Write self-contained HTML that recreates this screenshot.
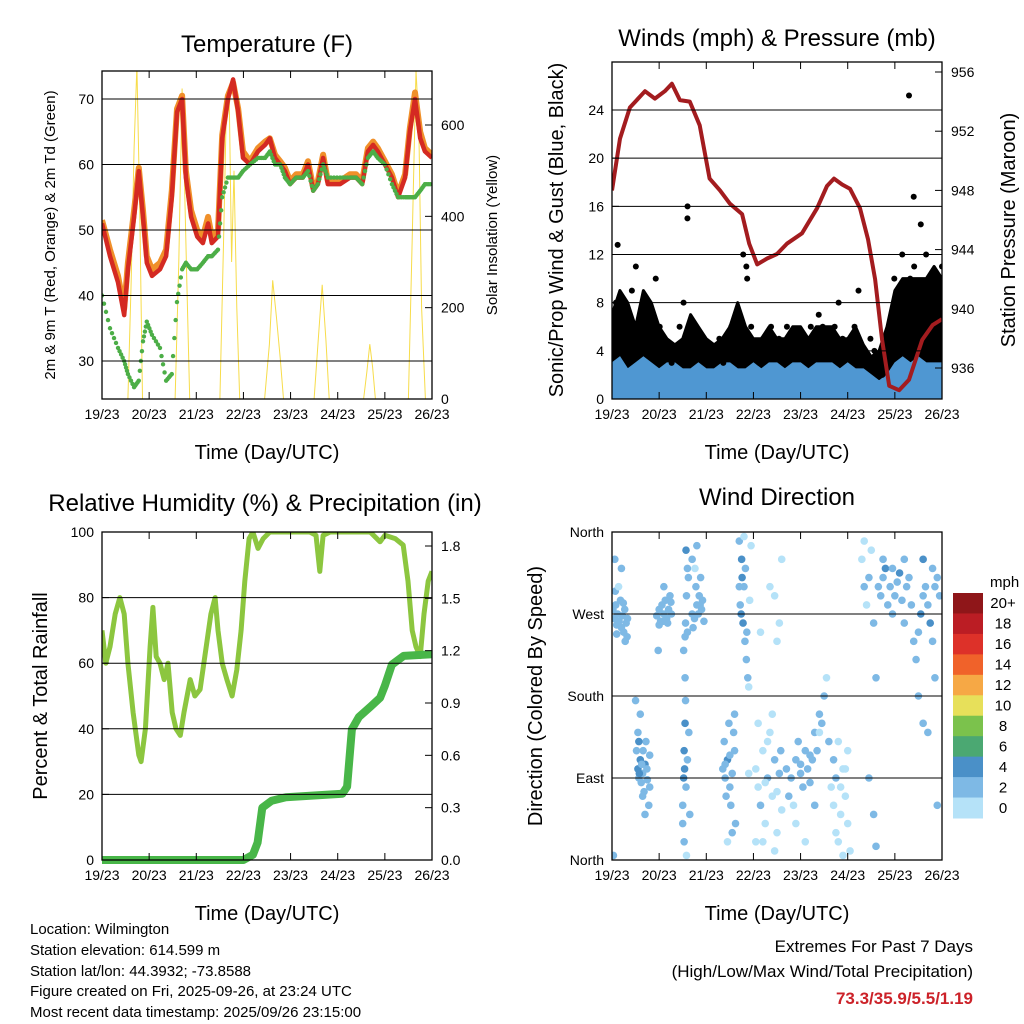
<!DOCTYPE html>
<html><head><meta charset="utf-8"><style>
html,body{margin:0;padding:0;background:#fff;}
svg{display:block;font-family:"Liberation Sans",Arial,sans-serif;}
</style></head><body>
<svg id="chart" width="1024" height="1024" viewBox="0 0 1024 1024" xmlns="http://www.w3.org/2000/svg">
<g id="marks"></g>
<g id="frames"></g>
<text x="267" y="52" font-size="24" text-anchor="middle">Temperature (F)</text>
<text x="777" y="46" font-size="24" text-anchor="middle">Winds (mph) &amp; Pressure (mb)</text>
<text x="265" y="511" font-size="24" text-anchor="middle">Relative Humidity (%) &amp; Precipitation (in)</text>
<text x="777" y="505" font-size="24" text-anchor="middle">Wind Direction</text>
<text x="267" y="459" font-size="20" text-anchor="middle">Time (Day/UTC)</text>
<text x="777" y="459" font-size="20" text-anchor="middle">Time (Day/UTC)</text>
<text x="267" y="920" font-size="20" text-anchor="middle">Time (Day/UTC)</text>
<text x="777" y="920" font-size="20" text-anchor="middle">Time (Day/UTC)</text>
<text transform="translate(55,235) rotate(-90)" font-size="15" text-anchor="middle">2m &amp; 9m T (Red, Orange) &amp; 2m Td (Green)</text>
<text transform="translate(497,235) rotate(-90)" font-size="15" text-anchor="middle">Solar Insolation (Yellow)</text>
<text transform="translate(563,230) rotate(-90)" font-size="20" text-anchor="middle">Sonic/Prop Wind &amp; Gust (Blue, Black)</text>
<text transform="translate(1015,230) rotate(-90)" font-size="20" text-anchor="middle">Station Pressure (Maroon)</text>
<text transform="translate(47,696) rotate(-90)" font-size="20" text-anchor="middle">Percent &amp; Total Rainfall</text>
<text transform="translate(542,696) rotate(-90)" font-size="20" text-anchor="middle">Direction (Colored By Speed)</text>
<g font-size="15">
<text x="30" y="934">Location: Wilmington</text>
<text x="30" y="955">Station elevation: 614.599 m</text>
<text x="30" y="976">Station lat/lon: 44.3932; -73.8588</text>
<text x="30" y="996">Figure created on Fri, 2025-09-26, at 23:24 UTC</text>
<text x="30" y="1017">Most recent data timestamp: 2025/09/26 23:15:00</text>
</g>
<text x="973" y="952" font-size="17" text-anchor="end">Extremes For Past 7 Days</text>
<text x="973" y="977" font-size="17" text-anchor="end">(High/Low/Max Wind/Total Precipitation)</text>
<text x="973" y="1004" font-size="17" font-weight="bold" fill="#cc2229" text-anchor="end">73.3/35.9/5.5/1.19</text>
<g id="colorbar"></g>
</svg>
<script>
// ---------- data ----------
const dayLabels = ["19/23","20/23","21/23","22/23","23/23","24/23","25/23","26/23"];
const tempTimes = [0,0.17,0.34,0.47,0.55,0.68,0.78,0.87,0.95,1.06,1.23,1.36,1.48,1.59,1.70,1.78,1.89,2.02,2.14,2.25,2.33,2.46,2.55,2.67,2.78,2.89,2.99,3.14,3.31,3.46,3.56,3.67,3.78,3.88,3.99,4.12,4.26,4.37,4.48,4.58,4.69,4.79,5.05,5.26,5.39,5.52,5.64,5.75,5.85,6.00,6.15,6.28,6.43,6.53,6.64,6.75,6.85,7.0];
const temp2m = [51,46,42,37,44,52,59,52,45,43,44,46,55,68,70,58,52,49,48,51,48,49,64,70,73,68,61,60,62,63,64,61,60,59,57,58,58,60,56,57,61,57,57,58,58,57,62,63,62,60,58,55,58,65,70,64,62,61];
const temp9m = [51.5,47,43,38,45,53,59.5,53,46,44,45,47,56,68.5,70.5,59,53,50,49,52,49,50,64.5,70.5,72.5,68.5,62,60.5,62.5,63.5,64,61.5,60.5,59.5,57.5,58.5,58.5,60.5,56.5,57.5,61.5,57.5,57.5,58.5,58.5,57.5,62.5,63.5,62.5,60.5,58.5,55.5,58.5,65.5,71,65,62.5,61.5];
const dewpoint = [40,35,32,30,28,26,27,33,36,34,32,27,28,39,44,45,44,44,45,46,46,47,55,58,58,58,59,60,61,61,62,60,60,58,57,58,58,59,56,57,60,58,58,58,58,57,61,62,61,60,57,55,55,55,55,56,57,57];
const solarTimes = [0,0.55,0.62,0.68,0.74,0.80,0.86,1.55,1.63,1.70,1.74,1.80,1.86,2.50,2.58,2.63,2.70,2.75,2.80,2.86,2.92,3.45,3.55,3.62,3.70,3.78,3.85,4.50,4.60,4.67,4.75,4.82,5.55,5.62,5.68,5.74,5.80,6.50,6.58,6.66,6.72,6.78,6.86,7.0];
const solarVals  = [0,0,260,550,730,420,0,0,300,680,520,250,0,0,350,600,650,300,500,200,0,0,120,260,180,90,0,0,150,250,130,0,0,60,120,70,0,0,350,720,600,200,0,0];
const pressTimes = [0,0.17,0.38,0.70,0.91,1.12,1.27,1.44,1.65,1.86,2.07,2.29,2.50,2.76,2.91,3.08,3.29,3.50,3.71,4.03,4.35,4.56,4.71,4.88,5.05,5.26,5.43,5.58,5.73,5.88,6.09,6.30,6.58,6.80,7.0];
const pressure   = [948.0,951.5,953.6,954.7,954.2,954.7,955.2,954.1,954.0,952.4,948.8,948.0,947.1,946.4,944.4,943.0,943.4,943.7,944.4,945.1,946.8,948.3,948.8,948.4,948.1,946.8,944.7,942.0,937.9,934.8,934.5,935.2,937.9,938.9,939.3];
const gustVals = [5,8,6,4,7,9,11,6,5,4,6,10,6,5,4,3,4,6,8,16,6,5,4,4,4,3,4,5,3,4,6,5,7,12,10,6,4,3,5,4,6,4,5,3,6,4,5,4,5,4,6,5,7,6,5,4,6,8,5,4,5,6,9,4,3,5,4,3,2,3,6,10,9,12,8,10,11,7,9,12,8,10,9,11];
const gustBandTop = [7,9,8,6,9,8,6,5,4.5,5,7,6,5,4.5,5,6,8,6,5,5,6,5,5,6,6,5,6,6,6,5,5,6,4.5,3.5,4,6,9,10,10,10,10,11,10];
const gustOutlierTimes = [0.12,1.6,2.85,6.3,6.4,6.55];
const gustOutlierVals  = [12.8,15,11,25.2,16.8,14.5];
const speedVals = [3,3.5,2.5,3,3.5,3,2.5,3,3,2.5,2.5,3,2.5,2.5,3,3,2.5,2.5,3,2.5,3,3,2.5,3,3,2.5,3,3,3,2.5,3,2.5,2.5,2,1.5,2,3,3.5,3,3.5,3,3,3];
const rhTimes = [0,0.08,0.17,0.28,0.38,0.47,0.55,0.66,0.78,0.83,0.92,1.02,1.08,1.15,1.23,1.32,1.40,1.49,1.57,1.66,1.74,1.87,1.97,2.08,2.21,2.31,2.40,2.46,2.55,2.65,2.76,2.86,2.95,3.03,3.12,3.20,3.31,3.42,3.56,3.78,3.99,4.20,4.41,4.54,4.62,4.69,4.84,5.26,5.69,5.90,6.00,6.22,6.39,6.49,6.58,6.66,6.75,6.83,6.92,7.0];
const rhVals  = [70,60,65,75,80,75,60,45,32,30,40,65,77,62,60,55,60,45,40,38,45,55,50,52,65,75,80,70,60,55,50,58,70,85,98,100,95,98,100,100,100,100,100,99,88,99,100,100,100,97,99,98,96,85,70,65,62,75,85,88];
const precipTimes = [0,3.0,3.2,3.3,3.4,3.6,3.9,4.5,5.1,5.2,5.3,5.45,5.7,5.9,6.0,6.15,6.4,7.0];
const precipVals  = [0,0,0.03,0.1,0.3,0.34,0.36,0.37,0.38,0.42,0.75,0.82,0.88,0.93,1.0,1.12,1.17,1.18];
const dirObs = [
[0.02,275,2.5],[0.05,265,2.5],[0.08,280,2.5],[0.1,258,2.5],[0.12,270,3],[0.15,262,2.5],[0.18,285,2.5],[0.2,255,2.5],[0.22,268,2.5],[0.25,250,2.5],[0.27,275,2.5],[0.3,260,2.5],[0.32,245,2.5],[0.07,295,2.5],[0.14,300,1],[0.2,320,2.5],[0.28,240,2.5],[0.33,265,2.5],[0.1,248,2.5],[0.24,282,2.5],[0.03,5,2.5],[0.06,330,2.5],
[0.52,120,3],[0.55,100,4.5],[0.57,90,3],[0.6,110,4.5],[0.62,85,3],[0.65,95,3],[0.68,75,3],[0.7,105,4.5],[0.72,130,3],[0.75,88,3],[0.78,60,3],[0.8,115,3],[0.55,140,3],[0.6,160,3],[0.65,70,3],[0.7,50,3],[0.58,95,4.5],[0.66,120,3],[0.74,100,3],[0.5,175,3],[0.8,80,3],[0.57,130,4.5],[0.63,105,3],
[0.95,268,2.5],[1.0,275,2.5],[1.03,262,2.5],[1.06,280,2.5],[1.1,270,2.5],[1.13,285,2.5],[1.16,265,2.5],[1.2,275,2.5],[1.23,290,2.5],[1.26,270,2.5],[1.0,258,2.5],[1.08,262,2.5],[1.18,260,2.5],[1.1,300,2.5],[1.25,283,2.5],[0.98,230,2.5],
[1.5,60,3],[1.52,90,4.5],[1.53,120,4.5],[1.55,150,4.5],[1.56,175,3],[1.54,100,4.5],[1.57,80,3],[1.5,40,3],[1.53,20,3],[1.58,5,1],[1.55,200,3],[1.52,230,3],[1.56,260,3],[1.58,290,3],[1.6,320,3],[1.57,340,4.5],[1.62,310,3],[1.6,250,3],[1.55,245,3],[1.6,110,3],[1.63,140,3],[1.65,50,3],
[1.7,270,2.5],[1.75,265,2.5],[1.8,280,2.5],[1.85,290,2.5],[1.9,275,2.5],[1.95,262,2.5],[1.78,300,2.5],[1.88,310,2.5],[1.72,255,2.5],[1.92,285,2.5],[1.7,330,2.5],[1.8,345,2.5],[1.83,270,2.5],[1.87,280,2.5],[1.76,320,1],
[2.35,100,3],[2.4,90,3],[2.45,110,4.5],[2.5,80,3],[2.55,95,3],[2.6,120,3],[2.42,70,3],[2.52,60,3],[2.58,140,3],[2.38,130,3],[2.48,150,3],[2.62,40,3],[2.45,20,1],[2.55,30,3],[2.4,105,3],[2.5,115,3],[2.6,160,3],
[2.7,350,3],[2.75,330,4.5],[2.8,300,3],[2.72,280,3],[2.78,260,4.5],[2.82,240,3],[2.85,220,3],[2.76,310,4.5],[2.88,200,3],[2.9,190,1],[2.95,345,1],[2.8,355,1],[2.74,270,4.5],[2.86,250,3],[2.92,285,1],[2.7,300,3],[2.83,320,3],[2.9,95,1],
[3.05,100,1],[3.1,80,1],[3.15,60,3],[3.2,120,1],[3.25,40,1],[3.3,90,3],[3.35,140,1],[3.4,70,1],[3.45,110,3],[3.5,30,1],[3.55,95,3],[3.1,150,1],[3.2,20,1],[3.3,130,1],[3.4,160,1],[3.5,75,1],[3.6,55,1],[3.25,85,1],[3.45,10,1],[3.35,300,1],[3.6,330,1],[3.55,260,1],[3.15,250,1],[3.05,20,1],[3.45,290,1],[3.5,240,1],[3.58,120,3],
[3.7,100,3],[3.8,90,3],[3.9,110,3],[4.0,95,3],[4.1,120,3],[4.2,85,3],[4.3,140,3],[4.4,160,3],[4.5,180,3],[3.75,70,3],[3.85,60,1],[3.95,130,3],[4.05,80,3],[4.15,100,3],[4.25,110,3],[4.35,120,3],[4.45,150,3],[4.55,200,1],[4.6,130,3],[3.9,40,1],[4.1,20,1],[4.3,60,3],[4.0,105,3],[4.2,115,3],[4.4,140,1],
[4.65,80,1],[4.7,60,1],[4.75,30,1],[4.8,20,1],[4.85,50,1],[4.9,100,1],[4.95,70,1],[5.0,40,1],[5.05,10,1],[4.7,110,3],[4.8,130,1],[4.9,5,1],[5.0,120,1],[4.75,90,3],[4.85,80,1],[4.95,100,1],
[5.3,330,1],[5.35,300,3],[5.4,280,1],[5.45,310,3],[5.5,340,1],[5.55,260,3],[5.6,200,3],[5.45,90,3],[5.55,50,3],[5.6,15,3],[5.35,350,1],
[5.65,300,3],[5.7,290,3],[5.75,310,3],[5.8,320,4.5],[5.85,280,3],[5.9,300,3],[5.95,270,3],[6.0,290,3],[6.05,305,3],[6.1,315,4.5],[6.15,285,3],[6.2,260,3],[6.25,300,3],[6.3,310,3],[6.35,280,3],[6.4,240,3],[6.45,220,3],[6.5,250,3],[6.55,270,4.5],[6.6,290,3],[6.65,300,3],[6.7,280,3],[6.75,260,4.5],[6.8,240,3],[6.85,300,3],[6.9,310,3],[6.95,290,3],[6.5,180,3],[6.6,150,3],[6.7,140,3],[6.85,200,3],[6.9,60,3],[5.75,330,3],[5.95,320,3],[6.2,330,3],[6.8,320,3],[6.6,330,4.5]
];
const cbLabels = ["20+","18","16","14","12","10","8","6","4","2","0"];
const cbColors = ["#8f1619","#bb1d24","#dd3129","#f0622a","#f6a845","#e7e05a","#7bc24c","#4ba872","#4a90c8","#7eb9e5","#b5e2f8"];

// ---------- helpers ----------
const NS = "http://www.w3.org/2000/svg";
const marks = document.getElementById("marks");
const frames = document.getElementById("frames");
function mk(tag, attrs, parent){ const e=document.createElementNS(NS,tag); for(const k in attrs) e.setAttribute(k,attrs[k]); (parent||marks).appendChild(e); return e; }
function linScale(d0,d1,r0,r1){ return v => r0 + (v-d0)/(d1-d0)*(r1-r0); }
function pathFrom(ts,vs,sx,sy){ return ts.map((t,i)=>(i?"L":"M")+sx(t).toFixed(1)+","+sy(vs[i]).toFixed(1)).join(""); }

function panel(name,x0,x1,y0,y1,leftTicks,leftLabels,sy,rightTicks,rightLabels,sy2,gridVals){
  const g = mk("g",{},frames);
  
  
  const clip = mk("clipPath",{id:name+"-clip"},marks);
  mk("rect",{x:x0,y:y0,width:x1-x0,height:y1-y0},clip);
  gridVals.forEach(v=>{ const gl=mk("line",{x1:x0,x2:x1,y1:sy(v),y2:sy(v),stroke:"#000","stroke-width":1},g);
    
     });
  const sx = linScale(0,7,x0,x1);
  dayLabels.forEach((lab,i)=>{ const x=sx(i);
    mk("line",{x1:x,x2:x,y1:y1,y2:y1-7,stroke:"#000"},g);
    mk("line",{x1:x,x2:x,y1:y0,y2:y0+7,stroke:"#000"},g);
    const t=mk("text",{x:x,y:y1+20,"font-size":14,"text-anchor":"middle"},g); t.textContent=lab;
    
     });
  leftTicks.forEach((v,i)=>{ const y=sy(v);
    mk("line",{x1:x0,x2:x0+7,y1:y,y2:y,stroke:"#000"},g);
    const t=mk("text",{x:x0-8,y:y+5,"font-size":14,"text-anchor":"end"},g); t.textContent=leftLabels[i];
    
     });
  if(rightTicks) rightTicks.forEach((v,i)=>{ const y=sy2(v);
    mk("line",{x1:x1,x2:x1-7,y1:y,y2:y,stroke:"#000"},g);
    const t=mk("text",{x:x1+9,y:y+5,"font-size":14,"text-anchor":"start"},g); t.textContent=rightLabels[i];
    
     });
  const fr=mk("rect",{x:x0,y:y0,width:x1-x0,height:y1-y0,fill:"none",stroke:"#000","stroke-width":1.3},g);
  
  
  return sx;
}

// ---------- Temperature ----------
(function(){
  const x0=102,x1=432,y0=71,y1=399;
  const sy = linScale(30,70,361,99);
  const sy2 = linScale(0,600,399,125);
  const sx = panel("temperature",x0,x1,y0,y1,[30,40,50,60,70],["30","40","50","60","70"],sy,[0,200,400,600],["0","200","400","600"],sy2,[30,40,50,60,70]);
  const clip = "url(#temperature-clip)";
  const sol = mk("path",{d:pathFrom(solarTimes,solarVals,sx,sy2),fill:"none",stroke:"#f7dc4a","stroke-width":1,"clip-path":clip});
  
  
  const o = mk("path",{d:pathFrom(tempTimes,temp9m,sx,sy),fill:"none",stroke:"#f0902a","stroke-width":6,"stroke-linejoin":"round","clip-path":clip});
  
  
  const r = mk("path",{d:pathFrom(tempTimes,temp2m,sx,sy),fill:"none",stroke:"#d42a22","stroke-width":4.5,"stroke-linejoin":"round","clip-path":clip});
  
  
  const dg = mk("g",{"clip-path":clip});
  
  
  for(let i=0;i<tempTimes.length-1;i++){
    for(let k=0;k<4;k++){ const f=k/4;
      const t=tempTimes[i]+(tempTimes[i+1]-tempTimes[i])*f, v=dewpoint[i]+(dewpoint[i+1]-dewpoint[i])*f;
      const c=mk("circle",{cx:sx(t),cy:sy(v),r:2.2,fill:"#4cae47"},dg);
      
       }
  }
})();

// ---------- Winds ----------
(function(){
  const x0=612,x1=942,y0=62,y1=399;
  const sy = linScale(0,24,399,110);
  const sy2 = linScale(936,956,368,72);
  const sx = panel("winds",x0,x1,y0,y1,[0,4,8,12,16,20,24],["0","4","8","12","16","20","24"],sy,[936,940,944,948,952,956],["936","940","944","948","952","956"],sy2,[4,8,12,16,20,24]);
  const clip="url(#winds-clip)";
  // black dense gust band
  const bt = 7/(gustBandTop.length-1);
  let bd="M"+sx(0)+","+sy(0);
  gustBandTop.forEach((v,i)=>{ bd+="L"+sx(i*bt).toFixed(1)+","+sy(v).toFixed(1); });
  bd+="L"+sx(7)+","+sy(0)+"Z";
  const band=mk("path",{d:bd,fill:"#000",stroke:"#000","stroke-width":3,"stroke-linejoin":"round","clip-path":clip});
  
  
  const st = 7/(speedVals.length-1);
  let d="M"+sx(0)+","+sy(0);
  speedVals.forEach((v,i)=>{ d+="L"+sx(i*st).toFixed(1)+","+sy(v).toFixed(1); });
  d+="L"+sx(7)+","+sy(0)+"Z";
  const sp=mk("path",{d:d,fill:"#4f97d2",stroke:"#4f97d2","stroke-width":1,"clip-path":clip});
  
  
  const gt = 7/(gustVals.length-1);
  const gts = gustVals.map((v,i)=>i*gt);
  const gg = mk("g",{"clip-path":clip});
  
  
  gts.forEach((t,i)=>{ const c=mk("circle",{cx:sx(t),cy:sy(gustVals[i]),r:3,fill:"#000"},gg);
    
     });
  gustOutlierTimes.forEach((t,i)=>{ const c=mk("circle",{cx:sx(t),cy:sy(gustOutlierVals[i]),r:3,fill:"#000"},gg);
    
     });
  const pl = mk("path",{d:pathFrom(pressTimes,pressure,sx,sy2),fill:"none",stroke:"#a31c1f","stroke-width":4,"stroke-linejoin":"round","clip-path":clip});
  
  
})();

// ---------- Humidity ----------
(function(){
  const x0=102,x1=432,y0=532,y1=860;
  const sy = linScale(0,100,860,532);
  const sy2 = linScale(0,1.8,860,546);
  const sx = panel("humidity",x0,x1,y0,y1,[0,20,40,60,80,100],["0","20","40","60","80","100"],sy,[0,0.3,0.6,0.9,1.2,1.5,1.8],["0.0","0.3","0.6","0.9","1.2","1.5","1.8"],sy2,[20,40,60,80,100]);
  const clip="url(#humidity-clip)";
  const rh = mk("path",{d:pathFrom(rhTimes,rhVals,sx,sy),fill:"none",stroke:"#8cc63f","stroke-width":5,"stroke-linejoin":"round","clip-path":clip});
  
  
  const pr = mk("path",{d:pathFrom(precipTimes,precipVals,sx,sy2),fill:"none",stroke:"#48b648","stroke-width":8,"stroke-linejoin":"round"});
  
  
})();

// ---------- Wind direction ----------
(function(){
  const x0=612,x1=942,y0=532,y1=860;
  const sy = linScale(0,360,860,532);
  const sx = panel("direction",x0,x1,y0,y1,[0,90,180,270,360],["North","East","South","West","North"],sy,null,null,null,[90,180,270]);
  const colorFor = s => cbColors[10-Math.max(0,Math.min(10,Math.floor(s/2)))];
  const g = mk("g",{"clip-path":"url(#direction-clip)"});
  
  
  dirObs.forEach(p=>{ const c=mk("circle",{cx:sx(p[0]),cy:sy(p[1]),r:3.8,fill:colorFor(p[2])},g);
    
     });
  const cb = document.getElementById("colorbar");
  
  
  const ttl = mk("text",{x:990,y:587,"font-size":15},cb); ttl.textContent="mph";
  
  
  const bh = (818-593)/cbLabels.length;
  cbLabels.forEach((lab,i)=>{
    const r=mk("rect",{x:953,y:593+i*bh,width:30,height:bh+0.5,fill:cbColors[i]},cb);
    
    
    const t=mk("text",{x:1003,y:593+i*bh+bh/2+5,"font-size":15,"text-anchor":"middle"},cb); t.textContent=lab;
    
    
  });
})();
</script>
</body></html>
